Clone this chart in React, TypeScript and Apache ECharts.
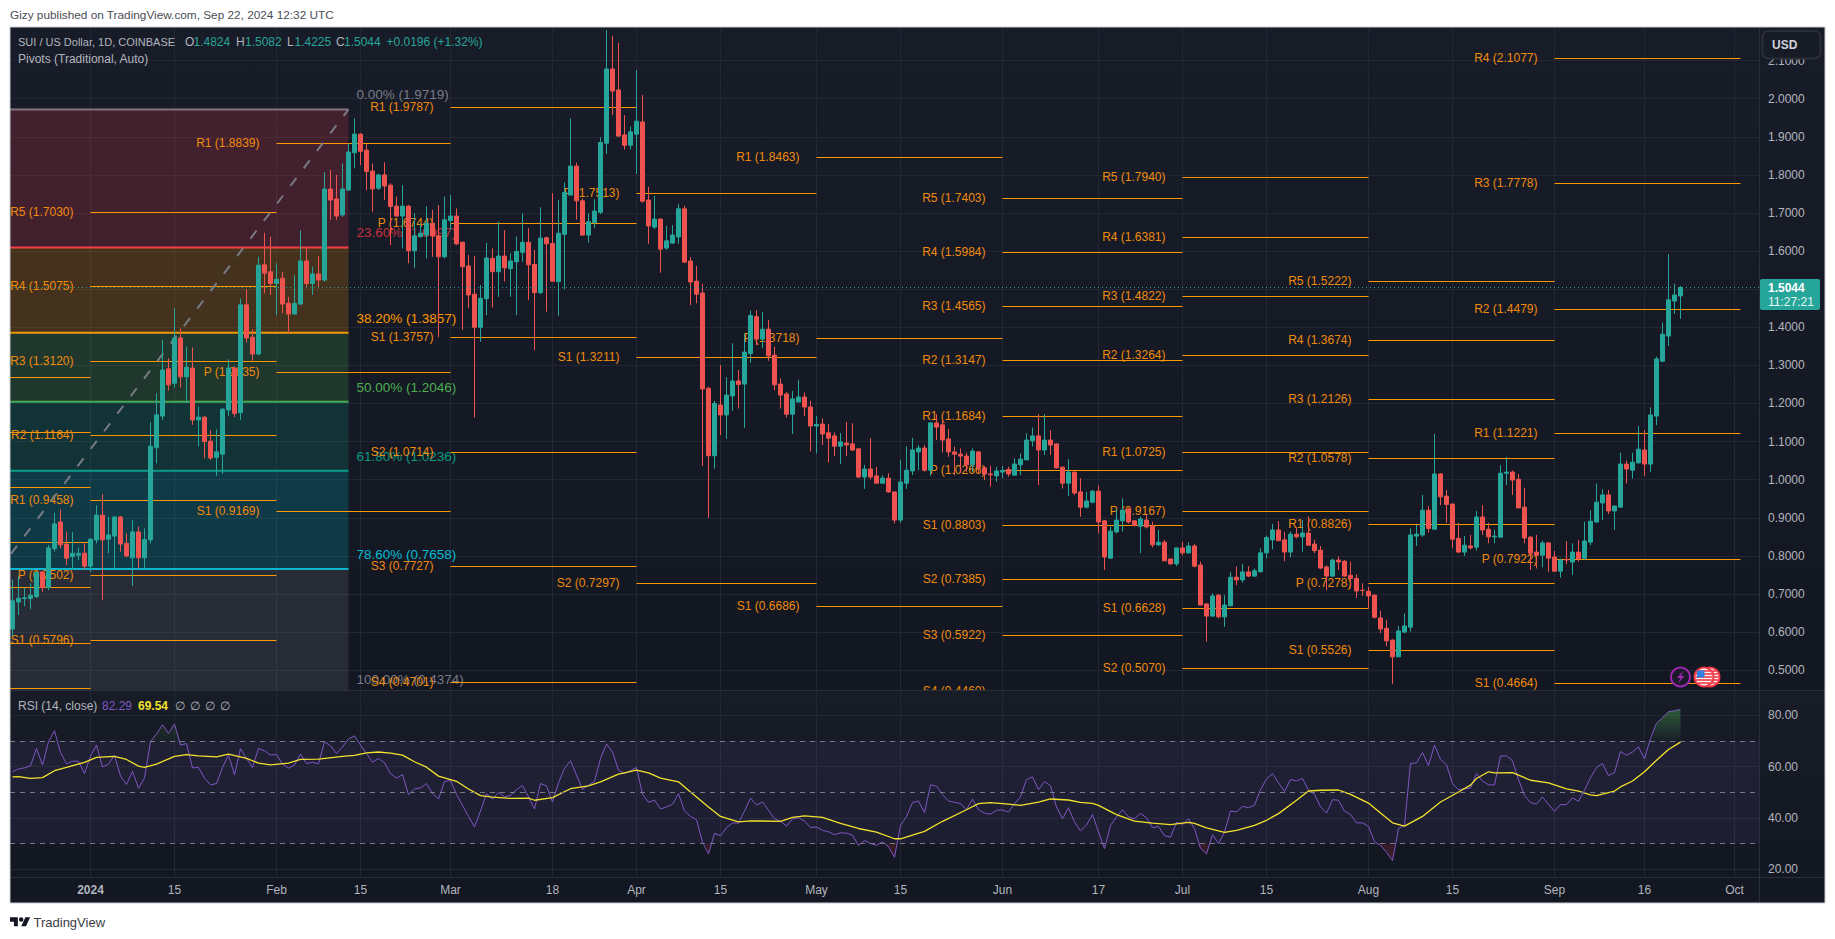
import React, { useEffect, useRef } from "react";
import * as echarts from "echarts";

const FONT = '"Liberation Sans", Arial, sans-serif';

// first candle = Dec 19 2023; index 0 = Jan 1 2024
const firstDay = -13;
const ohlc: number[][] = [
[.608,.682,.590,.738],[.679,.689,.645,.747],[.688,.690,.668,.717],[.688,.697,.660,.728],[.693,.756,.690,.760],[.758,.717,.706,.760],[.717,.821,.710,.829],[.819,.884,.811,.913],[.889,.829,.820,.922],[.831,.794,.776,.864],[.798,.807,.763,.863],[.802,.807,.789,.822],[.807,.773,.765,.833],
[.773,.844,.758,.846],[.842,.907,.833,.933],[.907,.842,.684,.962],[.844,.855,.807,.903],[.852,.902,.767,.905],[.902,.831,.811,.905],[.833,.800,.796,.859],[.795,.863,.721,.894],[.863,.795,.767,.877],[.795,.843,.765,.872],
[.842,1.088,.833,1.151],[1.084,1.170,1.043,1.227],[1.167,1.288,1.157,1.367],[1.291,1.249,1.234,1.319],[1.253,1.372,1.242,1.450],[1.372,1.270,1.242,1.397],[1.270,1.295,1.202,1.349],[1.293,1.157,1.144,1.347],[1.157,1.164,1.087,1.192],[1.164,1.100,1.056,1.167],[1.101,1.057,1.052,1.130],[1.059,1.073,1.010,1.132],[1.067,1.185,1.015,1.188],[1.183,1.293,1.167,1.316],[1.293,1.174,1.164,1.297],[1.176,1.459,1.157,1.476],[1.459,1.372,1.360,1.500],[1.374,1.330,1.312,1.395],[1.330,1.563,1.327,1.585],
[1.564,1.542,1.489,1.648],[1.546,1.515,1.485,1.638],[1.515,1.526,1.432,1.568],[1.529,1.461,1.437,1.546],[1.463,1.435,1.384,1.480],[1.435,1.463,1.432,1.537],[1.461,1.574,1.458,1.655],[1.574,1.515,1.502,1.612],[1.515,1.540,1.485,1.559],[1.540,1.524,1.502,1.587],[1.524,1.763,1.520,1.807],[1.763,1.734,1.682,1.813],[1.737,1.692,1.682,1.800],[1.695,1.763,1.690,1.830],[1.760,1.860,1.760,1.883],[1.858,1.907,1.817,1.948],[1.907,1.862,1.826,1.909],[1.865,1.809,1.760,1.881],[1.810,1.763,1.703,1.830],[1.765,1.800,1.760,1.803],[1.800,1.771,1.734,1.833],[1.773,1.717,1.616,1.778],[1.718,1.692,1.690,1.743],[1.692,1.718,1.607,1.773],[1.718,1.601,1.568,1.721],[1.601,1.640,1.555,1.699],[1.638,1.647,1.635,1.673],[1.642,1.673,1.581,1.718],[1.673,1.640,1.585,1.708],[1.640,1.585,1.374,1.721],[1.585,1.682,1.581,1.743],
[1.680,1.692,1.655,1.747],[1.692,1.619,1.616,1.712],[1.623,1.559,1.393,1.625],[1.561,1.485,1.450,1.590],[1.487,1.400,1.163,1.587],[1.400,1.476,1.362,1.511],[1.475,1.582,1.432,1.622],[1.581,1.546,1.452,1.607],[1.546,1.587,1.480,1.677],[1.587,1.556,1.520,1.655],[1.554,1.574,1.480,1.594],[1.572,1.599,1.432,1.638],[1.597,1.623,1.572,1.699],[1.623,1.564,1.472,1.660],[1.565,1.491,1.340,1.603],[1.491,1.634,1.487,1.715],[1.635,1.619,1.441,1.638],[1.620,1.521,1.520,1.752],[1.520,1.647,1.430,1.734],[1.644,1.754,1.500,1.780],[1.747,1.823,1.747,1.948],[1.823,1.732,1.683,1.832],[1.732,1.642,1.642,1.738],[1.642,1.677,1.622,1.699],[1.675,1.705,1.660,1.736],[1.702,1.885,1.697,1.899],[1.883,2.078,1.855,2.180],[2.078,2.020,1.957,2.165],[2.023,1.902,1.900,2.147],[1.905,1.878,1.867,1.957],[1.878,1.913,1.867,1.927],
[1.907,1.941,1.802,2.075],[1.939,1.731,1.727,2.010],[1.734,1.666,1.619,1.769],[1.663,1.684,1.658,1.745],[1.684,1.605,1.543,1.686],[1.608,1.627,1.603,1.666],[1.621,1.642,1.619,1.668],[1.637,1.711,1.619,1.724],[1.711,1.571,1.571,1.719],[1.574,1.519,1.458,1.584],[1.521,1.487,1.463,1.561],[1.490,1.238,1.036,1.514],[1.240,1.063,.900,1.244],[1.063,1.200,1.029,1.207],[1.196,1.170,1.117,1.301],[1.170,1.222,1.107,1.269],[1.220,1.259,1.181,1.358],[1.259,1.250,1.187,1.288],[1.251,1.335,1.136,1.384],[1.331,1.431,1.307,1.444],[1.428,1.369,1.353,1.445],[1.369,1.395,1.345,1.441],[1.395,1.325,1.312,1.419],[1.327,1.249,1.235,1.349],[1.251,1.222,1.187,1.266],[1.225,1.172,1.163,1.231],[1.172,1.212,1.120,1.233],[1.204,1.217,1.204,1.262],[1.217,1.191,1.167,1.229],[1.191,1.141,1.074,1.207],
[1.141,1.145,1.069,1.167],[1.146,1.120,1.091,1.161],[1.123,1.109,1.045,1.146],[1.115,1.088,1.062,1.124],[1.088,1.099,1.041,1.122],[1.096,1.091,1.062,1.152],[1.094,1.078,1.075,1.148],[1.081,1.007,1.004,1.082],[1.007,1.028,.976,1.039],[1.028,1.007,1.001,1.109],[1.010,.991,.990,1.034],[.991,1.004,.990,1.012],[1.004,.968,.966,1.017],[.968,.894,.885,.968],[.894,.994,.887,1.052],[.991,1.025,.976,1.088],[1.023,1.078,1.012,1.110],[1.073,1.083,1.025,1.091],[1.083,1.025,1.021,1.091],[1.025,1.149,1.010,1.152],[1.149,1.138,1.104,1.172],[1.144,1.104,1.071,1.157],[1.107,1.073,1.060,1.133],[1.073,1.067,1.012,1.087],[1.067,1.062,1.018,1.082],[1.062,1.039,1.021,1.071],[1.039,1.075,1.021,1.082],[1.073,1.031,1.017,1.075],[1.031,1.015,.999,1.036],[1.015,1.013,.982,1.036],[1.010,1.023,.995,1.034],
[1.020,1.024,1.004,1.036],[1.027,1.015,1.008,1.034],[1.012,1.041,1.012,1.056],[1.039,1.054,1.012,1.069],[1.052,1.104,1.052,1.122],[1.102,1.115,1.087,1.137],[1.115,1.078,.986,1.172],[1.078,1.104,1.065,1.172],[1.104,1.091,1.065,1.130],[1.094,1.031,1.030,1.095],[1.033,.991,.977,1.034],[.991,1.020,.957,1.054],[1.020,.965,.960,1.021],[.968,.928,.903,1.004],[.928,.944,.925,.968],[.941,.970,.938,.973],[.970,.889,.859,.985],[.892,.797,.763,.894],[.794,.865,.792,.877],[.863,.894,.859,.924],[.892,.920,.864,.951],[.923,.889,.885,.925],[.892,.880,.877,.894],[.878,.897,.807,.903],[.894,.876,.872,.907],[.878,.829,.822,.890],[.829,.836,.826,.868],[.836,.787,.787,.842],[.792,.779,.777,.792],[.779,.821,.773,.822],
[.821,.808,.802,.837],[.808,.826,.805,.836],[.826,.773,.770,.831],[.776,.671,.671,.785],[.674,.642,.575,.675],[.642,.695,.640,.702],[.697,.640,.636,.700],[.640,.671,.614,.697],[.669,.744,.669,.758],[.744,.737,.723,.772],[.737,.758,.730,.779],[.758,.747,.744,.773],[.747,.761,.745,.767],[.758,.808,.758,.820],[.808,.848,.793,.853],[.842,.868,.817,.884],[.868,.840,.840,.891],[.842,.810,.786,.863],[.810,.857,.796,.864],[.857,.850,.846,.875],[.850,.860,.811,.894],[.860,.828,.828,.904],[.831,.814,.807,.843],[.815,.768,.765,.826],[.771,.747,.710,.775],[.747,.789,.745,.793],[.789,.784,.763,.799],[.786,.747,.745,.789],[.749,.741,.715,.785],[.741,.708,.690,.752],[.710,.709,.695,.728],
[.707,.695,.662,.719],[.697,.639,.636,.699],[.637,.608,.597,.656],[.610,.577,.563,.632],[.579,.535,.464,.581],[.535,.603,.535,.616],[.600,.616,.597,.649],[.613,.855,.601,.872],[.852,.857,.826,.881],[.855,.920,.850,.960],[.920,.872,.861,.931],[.870,1.015,.870,1.120],[1.015,.955,.933,1.017],[.957,.935,.887,.973],[.936,.844,.820,.938],[.846,.810,.808,.887],[.810,.828,.800,.852],[.826,.821,.817,.855],[.823,.902,.814,.918],[.902,.868,.855,.933],[.870,.850,.833,.887],[.850,.852,.833,.868],[.849,1.017,.849,1.038],[1.017,1.020,.986,1.059],[1.020,.999,.960,1.024],[1.001,.926,.926,1.015],[.928,.847,.833,.979],[.849,.807,.763,.852],[.810,.802,.767,.855],[.802,.834,.770,.840],[.834,.794,.758,.837],
[.797,.760,.758,.813],[.760,.789,.743,.793],[.791,.789,.778,.839],[.784,.810,.750,.833],[.810,.792,.785,.842],[.794,.839,.789,.890],[.836,.891,.828,.920],[.889,.941,.887,.990],[.939,.960,.894,.975],[.960,.918,.910,.973],[.918,.931,.868,.931],[.928,1.041,.928,1.071],[1.041,1.028,.990,1.050],[1.025,1.046,1.003,1.071],[1.044,1.080,1.043,1.141],[1.078,1.041,1.010,1.130],[1.041,1.170,1.020,1.190],[1.167,1.317,1.143,1.323],[1.311,1.382,1.309,1.412],[1.377,1.472,1.351,1.592],[1.469,1.485,1.435,1.514],[1.4824,1.5044,1.4225,1.5082],
];

const rsiValues: number[] = [
58,59.1,59.5,60.3,67.1,60.6,69.7,74,65.5,61.1,62.1,62.1,57.3,
64.1,68.4,59.9,61,64.4,56.3,53,58.2,51.6,55.6,69.7,72.7,76.3,73,76.6,68.4,69,59.5,59.7,55.5,52.9,53.4,59.7,64.5,56.8,67,63.2,59.7,67.1,
66.2,64.5,64.7,61,59.4,60.6,64.9,61.2,61.7,61.1,69.7,68.1,65.1,67.7,70.7,72,68.4,65.1,61.7,63.2,61.5,57.3,55.5,56.9,49.1,51.3,51.7,53.4,49.5,47.4,54.2,
54.6,49.2,44.9,40.6,36.5,42.7,49.5,47.4,50,48.2,48.8,51,52.7,48.2,43.5,53.4,52.5,46.2,53.7,59.3,62.3,56.7,51.2,52.7,54.3,63.2,68.8,65.7,58.6,57.3,58.5,
59.7,49.2,46.1,46.9,43.5,44.3,45.3,49.5,42.7,40.6,39.3,30.6,26,34,33.1,36.2,38.1,38,42.7,47.7,45,46.2,43,39.7,38.7,36.8,39.6,40.1,38.8,36.3,
36.5,35.2,34.6,33.5,34.2,34.1,33.3,29.3,31.2,30.1,29.3,30.7,28.8,24.7,37.1,40.6,46,46.6,42.1,52.9,52.4,49.1,46.6,46.1,45.6,43.2,47.3,43.2,41.9,41.5,43,
43.1,42.3,45.6,48.2,55,56,51,54.2,52.6,44.3,39.7,44,38.4,35,37.2,41.3,34.5,28.1,37.1,40.4,43.2,40.4,39.7,41.8,40.1,36.2,36.7,33.1,32.5,38.3,
37.5,39.7,35.8,28.2,26,33.5,30,34.5,42.7,42.4,44.5,44,45,51,55.2,57.3,53.7,50.3,55,54.4,55.4,50.8,49.2,44.3,41.9,47.1,46.9,42.7,41.4,38.1,38.1,
36.7,30.8,29.3,26.7,23.4,35.8,37.2,61.2,61.5,65.5,60.4,68.4,62.8,60.7,53.4,51,51.4,51.6,57.3,54.4,52.9,52.9,64.1,64.2,62.3,55,48.8,46,45.4,48.2,45.3,
42.6,45.2,45.2,47.8,46.5,50.8,55.7,59.7,61.2,56.5,57.7,65.9,64.4,65.7,67.7,63,71,76.9,79.1,81.4,81.8,82.29,
];

// [day index, RSI-based MA] read at the places where the yellow line bends
const rsiMa: number[][] = [
[-13,56],[-12,56.1],[-10,55.4],[-8,55.7],[-6,58.4],[-4,59.7],[-1,61.7],[1,63.6],[4,64],[6,62.8],[8,60.2],[9,59.7],[11,61],[14,64],[16,64.7],[18,64.2],[21,63.8],[23,64.9],[26,63.2],[28,61.4],[30,60.7],[33,61.4],[35,62.8],[38,62.9],[42,64],[44,64.4],[46,65.4],[48,65.7],[50,65.3],[52,64.5],[54,61.9],[56,59.8],[58,56.3],[61,54.3],[63,51.3],[65,48.7],[67,48.1],[70,47.6],[73,47.7],[74,46.9],[77,47.9],[80,51.4],[83,52.5],[85,54.1],[88,57.1],
[89,57.6],[91,58.6],[93,57.6],[95,55.5],[98,54.1],[100,50.1],[103,44.3],[105,40.6],[108,38.5],[110,38.9],[115,38.7],[117,40.2],[119,40.8],[122,40.2],[125,37.9],[128,35.9],[131,34.5],[134,31.9],[135,31.9],[139,34.8],[142,38.7],[146,43.2],[148,45.6],[150,46],[153,45.4],[155,44.9],[158,46.2],[160,47.4],[163,47],[165,46.1],[167,45.7],[168,44.9],[171,41.3],[174,38.8],[177,38],[180,37.4],[183,38.3],[184,37.9],[186,36.1],[189,34.4],
[191,35.2],[194,37.1],[196,39.1],[198,41.7],[201,46.9],[203,50.5],[205,50.8],[208,50.9],[210,49.2],[213,45.8],[215,41.9],[217,38.1],[219,36.8],[222,40.6],[225,46.2],[228,50.1],[230,52.8],[231,55.4],[233,58],[234,57.6],[237,57.7],[240,54.7],[243,53.7],[246,51.3],[248,50.5],[250,49],[251,48.7],[254,50.5],[255,52.1],[257,54.4],[259,58],[261,62.5],[263,66.7],[265,69.54],
];

const overboughtRuns = [[10, 15], [43, 44], [260, 265]];
const oversoldRuns = [[103, 103], [128, 128], [131, 131], [133, 134], [169, 169], [185, 186], [215, 217]];

const timeTickDays = [0, 14, 31, 45, 60, 77, 91, 105, 121, 135, 152, 168, 182, 196, 213, 227, 244, 259, 274];
const timeTickLabels = ["2024", "15", "Feb", "15", "Mar", "18", "Apr", "15", "May", "15", "Jun", "17", "Jul", "15", "Aug", "15", "Sep", "16", "Oct"];
const priceTicks = [0.5, 0.6, 0.7, 0.8, 0.9, 1.0, 1.1, 1.2, 1.3, 1.4, 1.5, 1.6, 1.7, 1.8, 1.9, 2.0, 2.1];
const rsiTicks = [20, 40, 60, 80];

// pivot periods: day the period starts, day it ends, [name, level]
const pivotsDec: [string, number][] = [["", 1.2687], ["", 1.1243], ["", 0.98], ["", 0.8357], ["", 0.7176], ["", 0.5706], ["", 0.4525]];
const pivotsJan: [string, number][] = [["R5", 1.703], ["R4", 1.5075], ["R3", 1.312], ["R2", 1.1164], ["R1", 0.9458], ["P", 0.7502], ["S1", 0.5796]];
const pivotsFeb: [string, number][] = [["R1", 1.8839], ["P", 1.2835], ["S1", 0.9169]];
const pivotsMar: [string, number][] = [["R1", 1.9787], ["P", 1.6744], ["S1", 1.3757], ["S2", 1.0714], ["S3", 0.7727], ["S4", 0.4701]];
const pivotsApr: [string, number][] = [["P", 1.7513], ["S1", 1.3211], ["S2", 0.7297]];
const pivotsMay: [string, number][] = [["R1", 1.8463], ["P", 1.3718], ["S1", 0.6686]];
const pivotsJun: [string, number][] = [["R5", 1.7403], ["R4", 1.5984], ["R3", 1.4565], ["R2", 1.3147], ["R1", 1.1684], ["P", 1.0266], ["S1", 0.8803], ["S2", 0.7385], ["S3", 0.5922], ["S4", 0.446]];
const pivotsJul: [string, number][] = [["R5", 1.794], ["R4", 1.6381], ["R3", 1.4822], ["R2", 1.3264], ["R1", 1.0725], ["P", 0.9167], ["S1", 0.6628], ["S2", 0.507]];
const pivotsAug: [string, number][] = [["R5", 1.5222], ["R4", 1.3674], ["R3", 1.2126], ["R2", 1.0578], ["R1", 0.8826], ["P", 0.7278], ["S1", 0.5526]];
const pivotsSep: [string, number][] = [["R4", 2.1077], ["R3", 1.7778], ["R2", 1.4479], ["R1", 1.1221], ["P", 0.7922], ["S1", 0.4664]];
const pivotPeriods: [number, number, [string, number][]][] = [
  [-31, 0, pivotsDec], [0, 31, pivotsJan], [31, 60, pivotsFeb], [60, 91, pivotsMar], [91, 121, pivotsApr],
  [121, 152, pivotsMay], [152, 182, pivotsJun], [182, 213, pivotsJul], [213, 244, pivotsAug], [244, 275, pivotsSep],
];

const fibLabels = ["0.00%", "23.60%", "38.20%", "50.00%", "61.80%", "78.60%", "100.00%"];
const fibValues = [1.9719, 1.6097, 1.3857, 1.2046, 1.0236, 0.7658, 0.4374];
const fibColors = ["#787b86", "#f23645", "#ff9800", "#4caf50", "#089981", "#00bcd4", "#787b86"];
const fibFills = ["", "rgba(242,54,69,.2)", "rgba(255,152,0,.2)", "rgba(76,175,80,.2)", "rgba(8,153,129,.2)", "rgba(0,188,212,.2)", "rgba(120,123,134,.2)"];
const fibStartDay = -31;
const fibEndDay = 43;
const trendFrom = [-31, 0.4374];
const trendTo = [43, 1.9719];
const lastPrice = 1.5044;

const xMin = -13.417;
const xMax = 278.083;
const priceMin = 0.44803;
const priceMax = 2.18819;
const rsiMin = 17;
const rsiMax = 89.86;
const upColor = "#26a69a";
const downColor = "#ef5350";
const pivotColor = "#ff9800";
const pivotTextColor = "#ef8b0c";
const axisText = "#b2b5be";
const gridColor = "#232733";

echarts.graphic.registerShape(
  "tvlogo",
  echarts.graphic.extendPath("M14 6H0v8h7v8h7V6Zm14 16h-8l7.5-16H36l-7.5 16ZM20 14a4 4 0 1 0 0-8 4 4 0 0 0 0 8Z", {})
);

function txt(text: string, x: number, y: number, fill: string, size = 12, weight: string | number = "normal", z = 20) {
  return {
    type: "text", x, y, z, silent: true,
    style: { text, fill, fontFamily: FONT, fontSize: size, fontWeight: weight, verticalAlign: "middle", align: "left" },
  };
}

function flagIcon(cx: number, cy: number, z: number) {
  const stripes = [-6, -3, 0, 3, 6];
  return [
    { type: "circle", z, silent: true, shape: { cx, cy, r: 9.5 }, style: { fill: "#f5f5f5", stroke: "#f23645", lineWidth: 2 } },
    ...stripes.map((dy) => ({
      type: "rect", z, silent: true,
      shape: { x: cx - Math.sqrt(72 - dy * dy), y: cy + dy - 0.8, width: 2 * Math.sqrt(72 - dy * dy), height: 1.6 },
      style: { fill: "#f23645" },
    })),
    { type: "rect", z, silent: true, shape: { x: cx - 7, y: cy - 6.5, width: 7.5, height: 7 }, style: { fill: "#2f7fe0" } },
  ];
}

function buildGraphic() {
  const bg = (y0: number, y1: number, a: string, b: string) => ({
    type: "rect", z: -10, silent: true,
    shape: { x: 10, y: y0, width: 1815, height: y1 - y0 },
    style: { fill: new echarts.graphic.LinearGradient(0, 0, 0, 1, [{ offset: 0, color: a }, { offset: 1, color: b }]) },
  });
  const lines = [
    [[10, 690.5], [1825, 690.5]],
    [[10, 877.5], [1825, 877.5]],
    [[1759.5, 27], [1759.5, 903]],
  ];
  return [
    bg(27, 690, "#181c28", "#131722"),
    bg(690, 877, "#181c27", "#131722"),
    bg(877, 903, "#131722", "#131722"),
    ...lines.map((l) => ({
      type: "line", z: 5, silent: true,
      shape: { x1: l[0][0], y1: l[0][1], x2: l[1][0], y2: l[1][1] },
      style: { stroke: "#2a2e39", lineWidth: 1 },
    })),
    { type: "rect", z: 30, silent: true, shape: { x: 10, y: 27, width: 1815, height: 876 }, style: { fill: "none", stroke: "#c8cad0", lineWidth: 1 } },
    // header and footer
    txt("Gizy published on TradingView.com, Sep 22, 2024 12:32 UTC", 10, 15, "#4a4d55", 11.8),
    { type: "tvlogo", x: 10, y: 914, scaleX: 0.56, scaleY: 0.56, z: 20, silent: true, style: { fill: "#131722" } },
    txt("TradingView", 33.5, 922, "#3a3d45", 13),
    // legends
    txt("SUI / US Dollar, 1D, COINBASE", 18, 41.5, axisText, 11),
    txt("O", 185, 41.5, axisText, 12), txt("1.4824", 193.5, 41.5, upColor, 12),
    txt("H", 236, 41.5, axisText, 12), txt("1.5082", 245, 41.5, upColor, 12),
    txt("L", 287, 41.5, axisText, 12), txt("1.4225", 294.5, 41.5, upColor, 12),
    txt("C", 336, 41.5, axisText, 12), txt("1.5044", 344, 41.5, upColor, 12),
    txt("+0.0196 (+1.32%)", 386.5, 41.5, upColor, 12),
    txt("Pivots (Traditional, Auto)", 18, 59, axisText, 12),
    txt("RSI (14, close)", 18, 705.5, axisText, 12),
    txt("82.29", 102, 705.5, "#7e57c2", 12),
    txt("69.54", 138, 705.5, "#f2e22c", 12, "bold"),
    txt("∅", 175, 705.5, axisText, 12), txt("∅", 190, 705.5, axisText, 12),
    txt("∅", 205, 705.5, axisText, 12), txt("∅", 220, 705.5, axisText, 12),
    // price tag and currency button
    { type: "rect", z: 20, silent: true, shape: { x: 1760, y: 279, width: 60, height: 31, r: 2 }, style: { fill: "#26a69a" } },
    txt("1.5044", 1768, 287.5, "#ffffff", 12, "bold", 21),
    txt("11:27:21", 1768, 302, "#e8f5f3", 12, "normal", 21),
    { type: "rect", z: 20, silent: true, shape: { x: 1762.5, y: 31, width: 58, height: 27.5, r: 6 }, style: { fill: "#171b26", stroke: "#2a2e39", lineWidth: 2 } },
    txt("USD", 1772, 45, "#d1d4dc", 12, "bold", 21),
    // event marks on the time scale
    ...flagIcon(1710, 677, 8),
    ...flagIcon(1704, 677, 9),
    { type: "circle", z: 8, silent: true, shape: { cx: 1680.5, cy: 677, r: 9.5 }, style: { fill: "#1a1a2a", stroke: "#9c27b0", lineWidth: 2 } },
    {
      type: "polygon", z: 9, silent: true,
      shape: { points: [[1684, 670], [1677, 678], [1680.5, 678], [1677.5, 684], [1684.5, 676], [1681, 676]] },
      style: { fill: "#9c27b0" },
    },
  ];
}

function buildOption() {
  const rsiPts = rsiValues.map((v, i) => [i + firstDay, v]);
  const pivotRows: { from: number; to: number; level: number; label: string }[] = [];
  pivotPeriods.forEach(([from, to, lv]) =>
    lv.forEach(([n, level]) => pivotRows.push({ from, to, level, label: n ? `${n} (${level.toFixed(4)})` : "" }))
  );
  const fibRows = fibValues.map((v, i) => ({ v, i }));
  const greenFade = (a: number) =>
    new echarts.graphic.LinearGradient(0, 0, 0, 1, [{ offset: 0, color: `rgba(76,175,80,${a})` }, { offset: 1, color: "rgba(76,175,80,.02)" }]);
  const runs = [
    ...overboughtRuns.map((r) => ({ r, base: 70, grad: greenFade(r[1] === 265 ? 0.42 : 0.13) })),
    ...oversoldRuns.map((r) => ({ r, base: 30, grad: "rgba(242,54,69,.15)" })),
  ];

  return {
    animation: false,
    backgroundColor: "#ffffff",
    textStyle: { fontFamily: FONT },
    graphic: { elements: buildGraphic() },
    grid: [
      { left: 10, top: 27, width: 1749, height: 663 },
      { left: 10, top: 690, width: 1749, height: 187 },
    ],
    xAxis: [
      {
        type: "value", gridIndex: 0, min: xMin, max: xMax, position: "bottom",
        axisLine: { show: false }, axisLabel: { show: false },
        axisTick: { show: false, customValues: timeTickDays },
        splitLine: { show: true, lineStyle: { color: gridColor, width: 1 } },
      },
      {
        type: "value", gridIndex: 1, min: xMin, max: xMax, position: "bottom",
        axisLine: { show: false },
        axisTick: { show: false, customValues: timeTickDays },
        axisLabel: {
          customValues: timeTickDays, color: axisText, fontSize: 12, fontFamily: FONT, margin: 7, hideOverlap: false,
          formatter: (v: number) => {
            const s = timeTickLabels[timeTickDays.indexOf(v)] ?? "";
            return s === "2024" ? `{b|${s}}` : s;
          },
          rich: { b: { fontWeight: "bold", color: axisText, fontSize: 12, fontFamily: FONT } },
        },
        splitLine: { show: true, lineStyle: { color: gridColor, width: 1 } },
      },
    ],
    yAxis: [
      {
        type: "value", gridIndex: 0, position: "right", min: priceMin, max: priceMax,
        axisLine: { show: false },
        axisTick: { show: false, customValues: priceTicks },
        axisLabel: { customValues: priceTicks, color: axisText, fontSize: 12, fontFamily: FONT, margin: 9, formatter: (v: number) => v.toFixed(4) },
        splitLine: { show: true, lineStyle: { color: gridColor, width: 1 } },
      },
      {
        type: "value", gridIndex: 1, position: "right", min: rsiMin, max: rsiMax,
        axisLine: { show: false },
        axisTick: { show: false, customValues: rsiTicks },
        axisLabel: { customValues: rsiTicks, color: axisText, fontSize: 12, fontFamily: FONT, margin: 9, formatter: (v: number) => v.toFixed(2) },
        splitLine: { show: true, lineStyle: { color: gridColor, width: 1 } },
      },
    ],
    series: [
      {
        type: "custom", name: "fib", xAxisIndex: 0, yAxisIndex: 0, z: 1, clip: true, silent: true,
        encode: { x: 0, y: 1 },
        data: fibRows.map((r) => [fibStartDay, r.v]),
        renderItem: (params: any, api: any) => {
          const i = params.dataIndex;
          const a = api.coord([fibStartDay, fibValues[i]]);
          const endX = api.coord([fibEndDay, fibValues[i]])[0];
          const children: any[] = [];
          if (i > 0) {
            const top = api.coord([fibStartDay, fibValues[i - 1]])[1];
            children.push({ type: "rect", shape: { x: a[0], y: top, width: endX - a[0], height: a[1] - top }, style: { fill: fibFills[i] } });
          }
          children.push({ type: "line", shape: { x1: a[0], y1: a[1], x2: endX, y2: a[1] }, style: { stroke: fibColors[i], lineWidth: 2 } });
          children.push({
            type: "text", x: endX + 8, y: a[1] - 14.5,
            style: { text: `${fibLabels[i]} (${fibValues[i].toFixed(4)})`, fill: fibColors[i], font: `13.5px ${FONT}`, align: "left", verticalAlign: "middle", opacity: i === 1 ? 0.8 : 1 },
          });
          return { type: "group", children };
        },
      },
      {
        type: "line", name: "trend", xAxisIndex: 0, yAxisIndex: 0, z: 1, symbol: "none", silent: true,
        data: [trendFrom, trendTo],
        lineStyle: { color: "#787b86", width: 2, type: [10, 12] },
      },
      {
        type: "custom", name: "pivots", xAxisIndex: 0, yAxisIndex: 0, z: 1, clip: true, silent: true,
        encode: { x: 0, y: 1 },
        data: pivotRows.map((r) => [r.from, r.level]),
        renderItem: (params: any, api: any) => {
          const r = pivotRows[params.dataIndex];
          const a = api.coord([r.from, r.level]);
          const b = api.coord([r.to, r.level]);
          const y = Math.round(a[1]) + 0.5;
          return {
            type: "group",
            children: [
              { type: "line", shape: { x1: a[0], y1: y, x2: b[0], y2: y }, style: { stroke: pivotColor, lineWidth: 1 } },
              {
                type: "text", x: a[0] - 17, y: y - 1,
                style: { text: r.label, fill: pivotTextColor, font: `12px ${FONT}`, align: "right", verticalAlign: "middle" },
              },
            ],
          };
        },
      },
      {
        type: "candlestick", name: "SUI", xAxisIndex: 0, yAxisIndex: 0, z: 2, barWidth: 5, silent: true,
        data: ohlc.map((d, i) => [i + firstDay, d[0], d[1], d[2], d[3]]),
        itemStyle: { color: upColor, color0: downColor, borderColor: upColor, borderColor0: downColor, borderWidth: 1 },
      },
      {
        type: "line", name: "last", xAxisIndex: 0, yAxisIndex: 0, z: 3, symbol: "none", silent: true,
        data: [[xMin, lastPrice], [xMax, lastPrice]],
        lineStyle: { color: upColor, width: 1, type: [1, 3] },
      },
      {
        type: "custom", name: "rsiFill", xAxisIndex: 1, yAxisIndex: 1, z: 1, clip: true, silent: true,
        encode: { x: 0, y: 1 },
        data: runs.map((r) => [r.r[0], r.base]),
        renderItem: (params: any, api: any) => {
          const run = runs[params.dataIndex];
          const [a, b] = run.r;
          const pts = [api.coord([a - 0.5, run.base])];
          for (let d = a; d <= b; d++) pts.push(api.coord([d, rsiValues[d - firstDay]]));
          pts.push(api.coord([b + (b === 265 ? 0 : 0.5), run.base]));
          return { type: "polygon", shape: { points: pts }, style: { fill: run.grad } };
        },
      },
      {
        type: "line", name: "RSI", xAxisIndex: 1, yAxisIndex: 1, z: 2, symbol: "none", silent: true,
        data: rsiPts,
        lineStyle: { color: "#7e57c2", width: 1 },
        markArea: { silent: true, itemStyle: { color: "rgba(126,87,194,.1)" }, data: [[{ yAxis: 70 }, { yAxis: 30 }]] },
        markLine: {
          silent: true, symbol: "none", label: { show: false },
          lineStyle: { color: "#787b86", type: [5, 5], width: 1 },
          data: [{ yAxis: 70 }, { yAxis: 50 }, { yAxis: 30 }],
        },
      },
      {
        type: "line", name: "RSI MA", xAxisIndex: 1, yAxisIndex: 1, z: 3, symbol: "none", silent: true,
        data: rsiMa,
        lineStyle: { color: "#f2e22c", width: 1.3 },
      },
    ],
  };
}

export default function App() {
  const ref = useRef<HTMLDivElement>(null);
  useEffect(() => {
    const chart = echarts.init(ref.current!, undefined, { renderer: "svg" });
    chart.setOption(buildOption() as any);
    return () => chart.dispose();
  }, []);
  return <div ref={ref} style={{ position: "fixed", left: 0, top: 0, width: 1835, height: 939 }} />;
}
